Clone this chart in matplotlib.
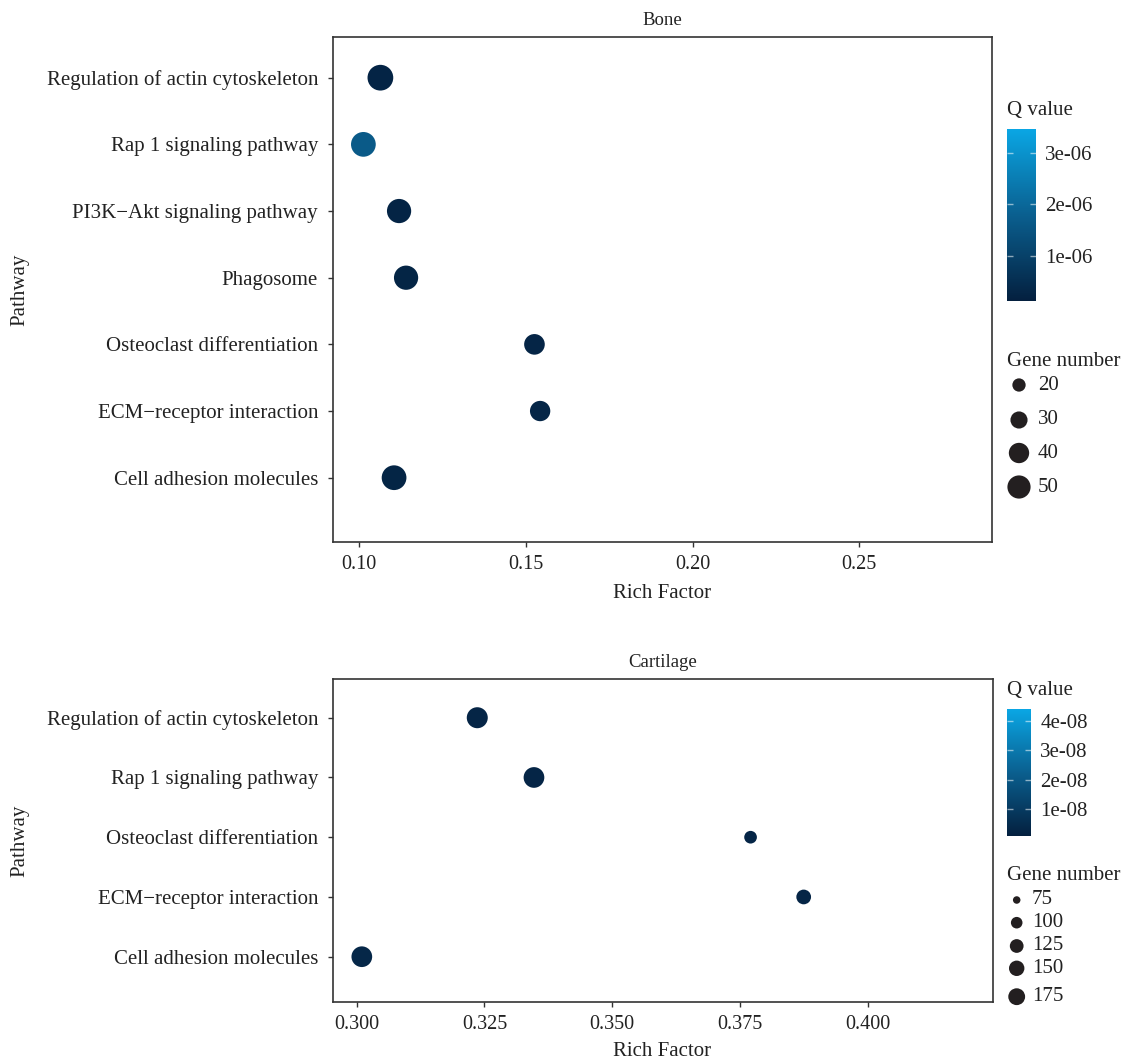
import numpy as np
import matplotlib
matplotlib.use('Agg')
import matplotlib.pyplot as plt
from matplotlib.colors import LinearSegmentedColormap, Normalize

plt.rcParams['font.family'] = ['Liberation Serif', 'DejaVu Serif']

# data (bottom to top of each panel)
bone_pathways = ['Cell adhesion molecules', 'ECM\u2212receptor interaction', 'Osteoclast differentiation',
                 'Phagosome', 'PI3K\u2212Akt signaling pathway', 'Rap 1 signaling pathway',
                 'Regulation of actin cytoskeleton']
bone_rich = [0.1105, 0.1543, 0.1526, 0.1141, 0.1120, 0.1013, 0.1064]
bone_genes = [56, 40, 41, 54, 54, 56, 60]
bone_q = [2.6e-7, 2.8e-7, 2.7e-7, 2.5e-7, 2.4e-7, 1.66e-6, 2.4e-7]
bone_size_breaks = [20, 30, 40, 50]
bone_q_ticks = [1e-6, 2e-6, 3e-6]
bone_q_labels = ['1e-06', '2e-06', '3e-06']

cart_pathways = ['Cell adhesion molecules', 'ECM\u2212receptor interaction', 'Osteoclast differentiation',
                 'Rap 1 signaling pathway', 'Regulation of actin cytoskeleton']
cart_rich = [0.3010, 0.3875, 0.3771, 0.3347, 0.3236]
cart_genes = [301, 156, 123, 301, 310]
cart_q = [0.35e-8, 0.3e-8, 0.3e-8, 0.3e-8, 0.3e-8]
cart_size_breaks = [75, 100, 125, 150, 175]
cart_q_ticks = [1e-8, 2e-8, 3e-8, 4e-8]
cart_q_labels = ['1e-08', '2e-08', '3e-08', '4e-08']

W, H, DPI = 1130, 1064, 100
fig = plt.figure(figsize=(W / DPI, H / DPI), dpi=DPI)
cmap = LinearSegmentedColormap.from_list('q', ['#04203f', '#0a5f8f', '#0aa6e4'])
txt = '#222222'
edge = '#333333'


def px_axes(l, t, r, b):
    return fig.add_axes([l / W, 1 - b / H, (r - l) / W, (b - t) / H])


def marker_area(v, a, b, v0):
    d = a + b * np.sqrt(np.maximum(np.asarray(v, float) - v0, 0))
    return (d * 72 / DPI) ** 2


def panel(box, names, rich, genes, q, xlim, ylim, xticks, xfmt, title, size_par, qnorm):
    ax = px_axes(*box)
    y = np.arange(1, len(names) + 1)
    ax.scatter(rich, y, s=marker_area(genes, *size_par), c=q, cmap=cmap, norm=qnorm,
               linewidths=0, zorder=3)
    ax.set_xlim(*xlim)
    ax.set_ylim(*ylim)
    ax.set_yticks(y)
    ax.set_yticklabels(names)
    ax.set_xticks(xticks)
    ax.set_xticklabels([xfmt % t for t in xticks])
    ax.tick_params(length=3.5, width=1, color=edge, labelcolor=txt)
    ax.tick_params(axis='x', labelsize=14.5, pad=6)
    ax.tick_params(axis='y', labelsize=15, pad=7)
    for sp in ax.spines.values():
        sp.set_color(edge)
        sp.set_linewidth(1.2)
    ax.set_title(title, fontsize=13.5, color=txt, pad=9)
    return ax


def colorbar(box, qnorm, ticks, labels, title):
    cax = px_axes(*box)
    sm = plt.cm.ScalarMappable(norm=qnorm, cmap=cmap)
    cb = fig.colorbar(sm, cax=cax)
    cb.outline.set_visible(False)
    cb.set_ticks(ticks)
    cb.set_ticklabels(labels)
    cax.tick_params(left=True, right=True, direction='in', length=4, width=1,
                    color=(1, 1, 1, 0.55), labelsize=15, labelcolor=txt, pad=7)
    fig.text(box[0] / W, 1 - (box[1] - 19) / H, title, fontsize=15, color=txt, va='center', ha='left')


# top panel
bone_norm = Normalize(1.18e-7, 3.47e-6)
panel((332.7, 37.3, 992, 541.7), bone_pathways, bone_rich, bone_genes, bone_q,
      (0.0921, 0.2898), (0.04, 7.606), [0.10, 0.15, 0.20, 0.25], '%.2f', 'Bone',
      (-3.7, 3.8, 0), bone_norm)
colorbar((1007, 129.3, 1035.7, 300.7), bone_norm, bone_q_ticks, bone_q_labels, 'Q value')

# bottom panel
cart_norm = Normalize(0.1e-8, 4.4e-8)
panel((332.7, 679.3, 992.7, 1001.7), cart_pathways, cart_rich, cart_genes, cart_q,
      (0.2953, 0.4245), (0.247, 5.643), [0.300, 0.325, 0.350, 0.375, 0.400], '%.3f', 'Cartilage',
      (5.6, 1.0, 73), cart_norm)
colorbar((1007, 709.3, 1030.7, 835.7), cart_norm, cart_q_ticks, cart_q_labels, 'Q value')

# axis labels
for yc in [289.5, 840.5]:
    fig.text(20 / W, 1 - yc / H, 'Pathway', rotation=90, fontsize=15, color=txt, ha='center', va='center')
for yc in [593, 1052]:
    fig.text(662 / W, 1 - yc / H, 'Rich Factor', fontsize=15, color=txt, ha='center', va='center')

# size legends drawn in an overlay with pixel coordinates
ov = fig.add_axes([0, 0, 1, 1], zorder=-1)
ov.set_xlim(0, W)
ov.set_ylim(H, 0)
ov.axis('off')

ov.text(1007, 361.7, 'Gene number', fontsize=15, color=txt, va='center')
rows = [385, 420, 453, 487]
ov.scatter([1019] * len(rows), rows, s=marker_area(bone_size_breaks, -3.7, 3.8, 0), color='#231f20', linewidths=0)
for yy, v in zip(rows, bone_size_breaks):
    ov.text(1038, yy, str(v), fontsize=15, color=txt, va='center')

ov.text(1007, 875, 'Gene number', fontsize=15, color=txt, va='center')
rows = [900, 922.7, 946, 968.3, 996.7]
ov.scatter([1016.7] * len(rows), rows, s=marker_area(cart_size_breaks, 5.6, 1.0, 73) * 1.15,
           color='#231f20', linewidths=0)
for yy, v in zip(rows, cart_size_breaks):
    ov.text(1031.7, yy, str(v), fontsize=15, color=txt, va='center')

fig.savefig('out.png', dpi=DPI)
